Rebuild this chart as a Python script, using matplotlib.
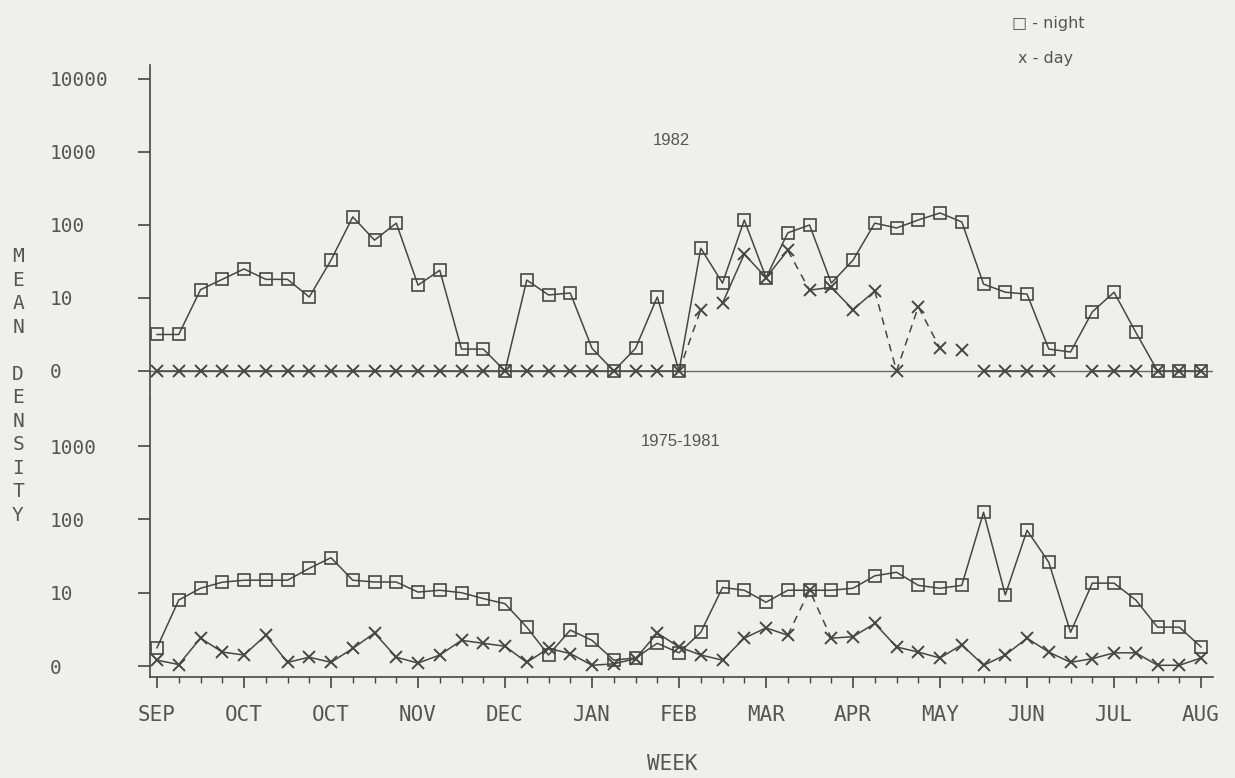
import matplotlib
matplotlib.use('Agg')  # no display on the render box
import matplotlib.pyplot as plt
from matplotlib.ticker import NullLocator
import numpy as np

# weekly sampling, September through August
WEEKS = np.arange(49)
MONTH_WEEKS = WEEKS[::4]
MONTHS = ['SEP', 'OCT', 'OCT', 'NOV', 'DEC', 'JAN', 'FEB', 'MAR', 'APR', 'MAY', 'JUN', 'JUL', 'AUG']
TOP_TICKS = [0, 10, 100, 1000, 10000]
BOTTOM_TICKS = [0, 10, 100, 1000]

night_1982 = [5, 5, 13, 18, 25, 18, 18, 10.3, 33, 129, 62, 106, 15, 24, 3, 3, 0,
              17.6, 11, 11.7, 3.1, 0, 3.1, 10.3, 0, 48, 16, 117, 19, 78, 100, 16, 33,
              106, 91, 117, 146, 110, 15.5, 12, 11.3, 3, 2.6, 8.1, 12, 5.3, 0, 0, 0]
day_1982 = [0] * 25 + [8.4, 9.3, 40, 19, 45, 12.8, 14, 8.4, 12.5, 0, 8.8, 3.1, 2.9,
                       0, 0, 0, 0, np.nan, 0, 0, 0, 0, 0, 0]

night_7581 = [2.5, 9, 11.5, 13.9, 14.8, 14.8, 14.8, 21.5, 30, 14.8, 14, 14, 10.2, 10.8,
              10, 9.2, 8.5, 5.3, 1.5, 4.9, 3.5, 0.8, 1.1, 3.1, 1.8, 4.6, 11.8, 10.8,
              8.7, 10.8, 10.8, 10.8, 11.5, 17, 19, 12.6, 11.5, 12.6, 125, 9.7, 71, 26,
              4.6, 13.5, 13.5, 9, 5.3, 5.3, 2.6]
day_7581 = [0.8, 0.2, 3.8, 1.9, 1.5, 4.2, 0.5, 1.2, 0.5, 2.4, 4.5, 1.2, 0.4, 1.5, 3.5,
            3.1, 2.7, 0.5, 2.4, 1.7, 0.1, 0.3, 1.0, 4.5, 2.6, 1.5, 0.8, 3.8, 5.2, 4.2,
            10.8, 3.8, 4.0, 5.8, 2.6, 1.9, 1.1, 2.9, 0.1, 1.5, 3.8, 1.9, 0.5, 1.0, 1.8,
            1.8, 0.1, 0.1, 1.1]

# index ranges of the day series joined by solid / dashed strokes
day_1982_solid = [(0, 24), (26, 29), (30, 33), (38, 41), (43, 45)]
day_1982_dashed = [(24, 25), (29, 30), (33, 36)]
day_7581_solid = [(0, 29), (31, 48)]
day_7581_dashed = [(29, 31)]

INK = '#464646'
TXT = '#555555'
BG = '#efefed'
MONO = 'DejaVu Sans Mono'


def draw_panel(ax, night, day, solid, dashed):
    ax.plot(WEEKS, night, color=INK, lw=1.1, marker='s', ms=8.5, mfc='none',
            mec=INK, mew=1.2, zorder=3)
    day = np.asarray(day, dtype=float)
    for a, b in solid:
        ax.plot(WEEKS[a:b + 1], day[a:b + 1], color=INK, lw=1.1, zorder=2)
    for a, b in dashed:
        ax.plot(WEEKS[a:b + 1], day[a:b + 1], color=INK, lw=1.1,
                ls=(0, (5, 4)), zorder=2)
    ax.plot(WEEKS, day, ls='none', marker='x', ms=9, mec=INK, mew=1.4, zorder=3)


def style_axis(ax, ticks, ylim):
    ax.set_facecolor(BG)
    ax.set_yscale('symlog', linthresh=10, linscale=0.9)
    ax.set_ylim(*ylim)
    ax.set_xlim(-0.32, 48.55)
    ax.yaxis.set_minor_locator(NullLocator())
    ax.set_yticks(ticks)
    ax.set_yticklabels([str(t) for t in ticks], ha='left', fontfamily=MONO)
    ax.tick_params(axis='y', direction='out', length=9, width=1.2, pad=63,
                   color=INK, labelcolor=TXT, labelsize=14)
    for side in ('top', 'right'):
        ax.spines[side].set_visible(False)
    ax.spines['left'].set_color(INK)
    ax.spines['left'].set_linewidth(1.2)


fig = plt.figure(figsize=(12.35, 7.78), dpi=100, facecolor=BG)
ax_top = fig.add_axes([0.1215, 0.4859, 0.8607, 0.4306])
ax_bot = fig.add_axes([0.1215, 0.1298, 0.8607, 0.3561])

style_axis(ax_top, TOP_TICKS, (-3.97, 15560))
style_axis(ax_bot, BOTTOM_TICKS, (-1.5, 4256))

# upper panel: 1982 season, zero line runs the full width
ax_top.axhline(0, color=INK, lw=1.0, alpha=0.8, zorder=1)
draw_panel(ax_top, night_1982, day_1982, day_1982_solid, day_1982_dashed)
ax_top.spines['bottom'].set_visible(False)
ax_top.tick_params(axis='x', bottom=False, labelbottom=False)

# lower panel: 1975-1981 average
draw_panel(ax_bot, night_7581, day_7581, day_7581_solid, day_7581_dashed)
ax_bot.spines['bottom'].set_color(INK)
ax_bot.spines['bottom'].set_linewidth(1.2)
ax_bot.set_xticks(MONTH_WEEKS)
ax_bot.set_xticklabels(MONTHS, fontfamily=MONO)
ax_bot.set_xticks(WEEKS, minor=True)
ax_bot.tick_params(axis='x', which='major', direction='out', length=8, width=1.2,
                   pad=12, color=INK, labelcolor=TXT, labelsize=15)
ax_bot.tick_params(axis='x', which='minor', direction='out', length=4, width=1.0,
                   color=INK)

fig.text(0.544, 0.820, '1982', ha='center', va='center', fontsize=12,
         family='Liberation Sans', color=TXT)
fig.text(0.551, 0.432, '1975-1981', ha='center', va='center', fontsize=12,
         family='Liberation Sans', color=TXT)
fig.text(0.544, 0.018, 'WEEK', ha='center', va='center', fontsize=15,
         family=MONO, color=TXT)
fig.text(0.0146, 0.504, '\n'.join('MEAN DENSITY'), ha='center', va='center',
         fontsize=14, family=MONO, color=TXT, linespacing=1.30)

fig.text(0.8194, 0.9704, '\u25a1 - night', ha='left', va='center', fontsize=11.5,
         family='DejaVu Sans', color=TXT)
fig.text(0.8243, 0.9254, 'x - day', ha='left', va='center', fontsize=11.5,
         family='DejaVu Sans', color=TXT)

fig.savefig('out.png', dpi=100, facecolor=BG)
